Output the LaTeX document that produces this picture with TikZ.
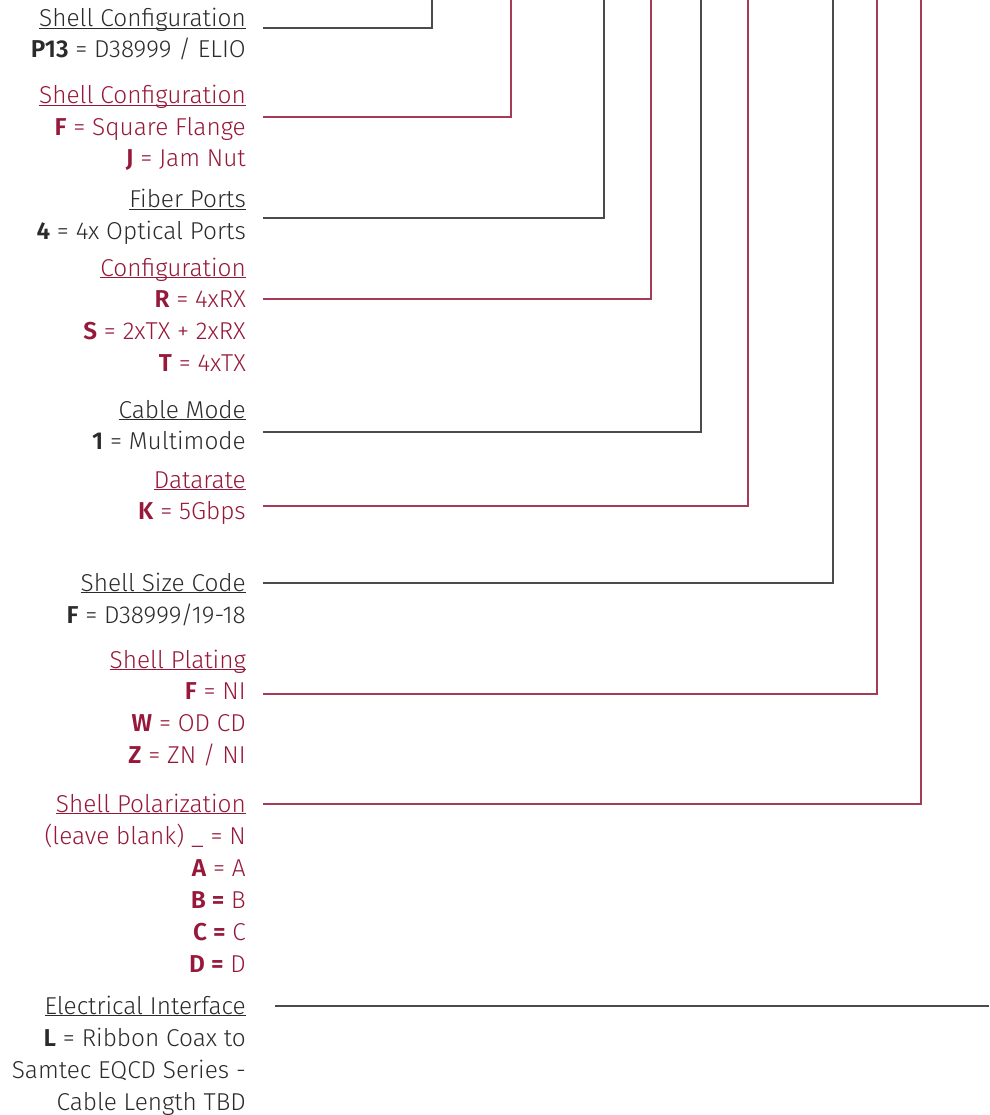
\documentclass[tikz,border=0pt]{standalone}
\usepackage{fontspec}
\IfFontExistsTF{Fira Sans Light}{%
  \setmainfont{Fira Sans Light}[BoldFont={Fira Sans SemiBold}]}{%
  \setmainfont{Fira Sans}}
\definecolor{txtgray}{HTML}{2B2B2B}
\definecolor{samred}{HTML}{96183A}
\newcommand\ulx[1]{\setbox0\hbox{#1}\rlap{\rule[-2.4pt]{\wd0}{1.1pt}}\box0}
\tikzset{
  row/.style={anchor=base east, inner sep=0pt, font=\fontsize{24.4}{30}\selectfont},
  grayrow/.style={row, text=txtgray},
  redrow/.style={row, text=samred},
  grayline/.style={draw=txtgray!85, line width=1.3pt},
  redline/.style={draw=samred!85, line width=1.3pt},
}
\begin{document}
\begin{tikzpicture}[x=1pt,y=-1pt]
\useasboundingbox (0,0) rectangle (989,1115);
% group 1
\node[grayrow] (g1t) at (246,27) {\ulx{Shell Configuration}};
\node[grayrow] (g1a) at (246,58) {\textbf{P13} = D38999 / ELIO};
% group 2
\node[redrow] (g2t) at (246,104) {\ulx{Shell Configuration}};
\node[redrow] (g2a) at (246,136) {\textbf{F} = Square Flange};
\node[redrow] (g2b) at (246,167) {\textbf{J} = Jam Nut};
% group 3
\node[grayrow] (g3t) at (246,208) {\ulx{Fiber Ports}};
\node[grayrow] (g3a) at (246,240) {\textbf{4} = 4x Optical Ports};
% group 4
\node[redrow] (g4t) at (246,276) {\ulx{Configuration}};
\node[redrow] (g4a) at (246,307) {\textbf{R} = 4xRX};
\node[redrow] (g4b) at (246,339) {\textbf{S} = 2xTX + 2xRX};
\node[redrow] (g4c) at (246,371) {\textbf{T} = 4xTX};
% group 5
\node[grayrow] (g5t) at (246,418) {\ulx{Cable Mode}};
\node[grayrow] (g5a) at (246,449) {\textbf{1} = Multimode};
% group 6
\node[redrow] (g6t) at (246,488) {\ulx{Datarate}};
\node[redrow] (g6a) at (246,519) {\textbf{K} = 5Gbps};
% group 7
\node[grayrow] (g7t) at (246,591) {\ulx{Shell Size Code}};
\node[grayrow] (g7a) at (246,623) {\textbf{F} = D38999/19-18};
% group 8
\node[redrow] (g8t) at (246,668) {\ulx{Shell Plating}};
\node[redrow] (g8a) at (246,699) {\textbf{F} = NI};
\node[redrow] (g8b) at (246,731) {\textbf{W} = OD CD};
\node[redrow] (g8c) at (246,763) {\textbf{Z} = ZN / NI};
% group 9
\node[redrow] (g9t) at (246,812) {\ulx{Shell Polarization}};
\node[redrow] (g9a) at (246,844) {(leave blank) \_ = N};
\node[redrow] (g9b) at (246,876) {\textbf{A} = A};
\node[redrow] (g9c) at (246,908) {\textbf{B =} B};
\node[redrow] (g9d) at (246,940) {\textbf{C =} C};
\node[redrow] (g9e) at (246,972) {\textbf{D =} D};
% group 10
\node[grayrow] (g10t) at (246,1014) {\ulx{Electrical Interface}};
\node[grayrow] (g10a) at (246,1046) {\textbf{L} = Ribbon Coax to};
\node[grayrow] (g10b) at (246,1078) {Samtec EQCD Series -};
\node[grayrow] (g10c) at (246,1110) {Cable Length TBD};
% connector ends
\coordinate (s1) at (263,28);   \coordinate (t1) at (432,0);
\coordinate (s2) at (263,117);  \coordinate (t2) at (511,0);
\coordinate (s3) at (263,218);  \coordinate (t3) at (604,0);
\coordinate (s4) at (263,299);  \coordinate (t4) at (651,0);
\coordinate (s5) at (263,432);  \coordinate (t5) at (701,0);
\coordinate (s6) at (263,506);  \coordinate (t6) at (748,0);
\coordinate (s7) at (263,583);  \coordinate (t7) at (833,0);
\coordinate (s8) at (263,694);  \coordinate (t8) at (877,0);
\coordinate (s9) at (263,804);  \coordinate (t9) at (921,0);
\coordinate (s10) at (275,1006); \coordinate (t10) at (989,1006);
\draw[grayline] (s1) -| (t1);
\draw[redline]  (s2) -| (t2);
\draw[grayline] (s3) -| (t3);
\draw[redline]  (s4) -| (t4);
\draw[grayline] (s5) -| (t5);
\draw[redline]  (s6) -| (t6);
\draw[grayline] (s7) -| (t7);
\draw[redline]  (s8) -| (t8);
\draw[redline]  (s9) -| (t9);
\draw[grayline] (s10) -- (t10);
\end{tikzpicture}
\end{document}
